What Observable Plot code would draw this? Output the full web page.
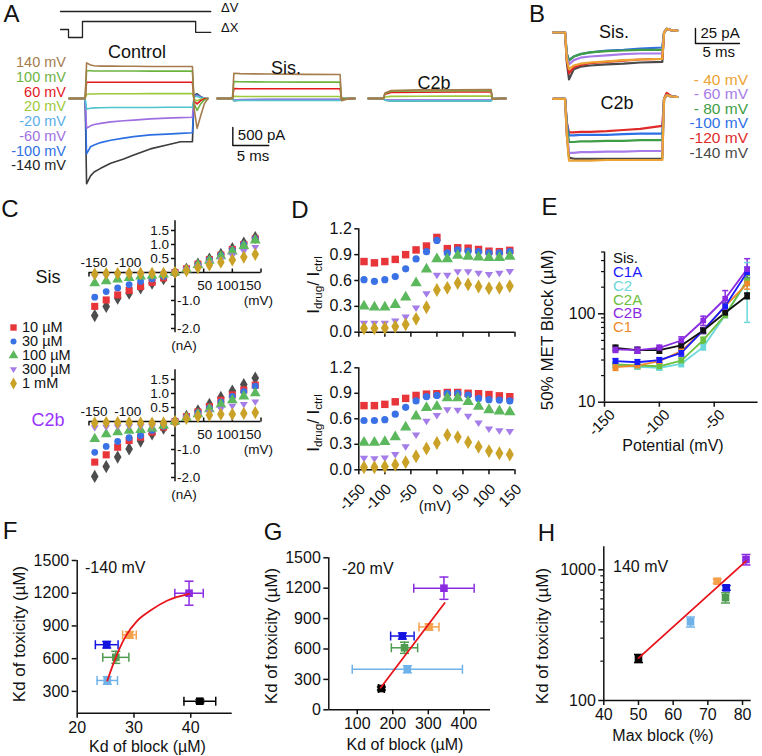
<!DOCTYPE html>
<html><head><meta charset="utf-8">
<script src="https://cdn.jsdelivr.net/npm/d3@7"></script>
<script src="https://cdn.jsdelivr.net/npm/@observablehq/plot@0.6"></script>
<style>
body{margin:0;background:#fff;}
#root{position:relative;width:762px;height:756px;overflow:hidden;background:#fff;font-family:"Liberation Sans",Arial,Helvetica,sans-serif;color:#111;}
.t{position:absolute;white-space:nowrap;line-height:0.8;}
.t sub{font-size:0.68em;vertical-align:-0.25em;line-height:0;}
.stack{position:absolute;white-space:nowrap;}
</style></head><body><div id="root"></div>
<script>
// ================= DATA =================
// Panel A : MET currents (pA) vs time (ms from step onset)
const aLabels = ["140 mV","100 mV","60 mV","20 mV","-20 mV","-60 mV","-100 mV","-140 mV"];
const aTime = [-2.3,-0.05,0.15,0.7,1.2,2.1,3.5,5.3,6.7,9.0,11.3,13.2,14.85,15.1,15.5,16.0,16.5,17.0];
const aControl = [
 [0,0,990,930,910,900,900,895,895,890,890,890,890,-300,-830,-480,-150,0],
 [0,0,770,770,765,765,765,765,765,760,760,760,760,-150,-330,-150,-40,0],
 [0,0,450,450,450,450,450,450,450,450,450,450,450,-80,-150,-60,-10,0],
 [0,0,120,125,125,130,130,130,130,135,135,135,135,-30,-60,-20,0,0],
 [0,0,-290,-270,-260,-255,-250,-250,-250,-250,-245,-245,-245,40,60,20,0,0],
 [0,0,-825,-760,-720,-690,-650,-620,-600,-565,-545,-530,-520,60,80,30,5,0],
 [0,0,-1540,-1340,-1290,-1225,-1160,-1100,-1060,-1010,-990,-970,-950,80,100,40,5,0],
 [0,0,-2370,-2150,-2040,-1940,-1800,-1680,-1570,-1400,-1290,-1200,-1200,100,130,50,5,0]
];
const aDrugTime = [-2.2,-0.05,0.15,1,5,10,14.9,15.1,16,17];
const aSis = [
 [0,0,700,690,680,670,665,-60,-10,0],
 [0,0,470,465,460,455,455,-30,0,0],
 [0,0,275,270,270,270,270,-15,0,0],
 [0,0,60,55,55,55,55,0,0,0],
 [0,0,-60,-55,-55,-55,-55,0,0,0],
 [0,0,-40,-30,-25,-25,-25,0,0,0],
 [0,0,-50,-35,-30,-30,-30,0,0,0],
 [0,0,-60,-40,-35,-35,-35,0,0,0]
];
const aC2b = [
 [0,0,150,220,240,245,250,-20,0,0],
 [0,0,140,200,210,215,215,-15,0,0],
 [0,0,120,170,175,180,180,-10,0,0],
 [0,0,40,60,62,65,65,0,0,0],
 [0,0,-50,-65,-65,-65,-65,0,0,0],
 [0,0,-30,-45,-45,-45,-45,0,0,0],
 [0,0,-40,-55,-55,-55,-55,0,0,0],
 [0,0,-45,-60,-60,-60,-60,0,0,0]
];
const stimTime = [-3.47,-2.36,-0.42,15.3,17.4];
const stimX = [0,-1,1,-0.35,-0.35];
const stimV = [0,0,0,0,0];
const aScale = {pA: 500, ms: 5};

// Panel B
const bLabels = ["- 40 mV","- 60 mV","- 80 mV","-100 mV","-120 mV","-140 mV"];
const bTime = [-1.4,-0.05,0.15,0.4,0.95,1.7,2.8,4.7,6.6,8.5,11.0,11.2,11.5,12.0,12.7];
const bSis = [
 [0,0,-45,-61,-55,-52,-50,-48,-46,-45,-44,0,6,4,3],
 [0,0,-40,-53,-46,-42,-40,-38,-36,-35,-35,0,6,4,3],
 [0,0,-35,-47,-40,-36,-33,-31,-30,-29,-29,0,6,4,3],
 [0,0,-35,-46,-40,-36,-33,-30,-29,-27,-25,0,6,4,3],
 [0,0,-45,-68,-58,-54,-51,-49,-47,-45,-44,0,6,4,3],
 [0,0,-50,-78,-61,-57,-55,-53,-52,-50,-49,0,6,4,3]
];
const bC2b = [
 [0,0,-60,-103,-103,-103,-103,-102,-102,-102,-102,0,6,4,3],
 [0,0,-55,-90,-90,-89,-89,-88,-88,-87,-87,0,6,4,3],
 [0,0,-45,-72,-72,-71,-71,-70,-70,-69,-69,0,6,4,3],
 [0,0,-40,-61,-61,-60,-60,-60,-59,-58,-58,0,6,4,3],
 [0,0,-40,-56,-56,-55,-55,-54,-52,-50,-45,0,10,5,3],
 [0,0,-60,-98,-100,-100,-100,-100,-100,-100,-100,0,6,4,3]
];
const bScale = {pA: 25, ms: 5};

// Panel C : I-V (nA)
const ivV = [-140,-120,-100,-80,-60,-40,-20,0,20,40,60,80,100,120,140];
const concLabels = ["10 µM","30 µM","100 µM","300 µM","1 mM"];
const ivSis = [
 [-1.54,-1.21,-0.92,-0.74,-0.55,-0.38,-0.22,0,0.12,0.30,0.48,0.65,0.85,1.05,1.25],
 [-1.21,-0.98,-0.80,-0.64,-0.50,-0.35,-0.19,0,0.13,0.30,0.46,0.62,0.82,1.00,1.20],
 [-0.88,-0.68,-0.55,-0.43,-0.32,-0.23,-0.14,0,0.12,0.28,0.45,0.62,0.80,1.00,1.20],
 [-0.38,-0.31,-0.25,-0.19,-0.14,-0.11,-0.07,0,0.11,0.27,0.42,0.58,0.75,0.95,1.15],
 [-0.14,-0.12,-0.10,-0.08,-0.07,-0.05,-0.04,0,0.09,0.22,0.33,0.45,0.60,0.75,0.90],
 [-0.05,-0.04,-0.04,-0.03,-0.03,-0.03,-0.03,0,0.07,0.17,0.27,0.37,0.45,0.55,0.65]
];
const ivC2b = [
 [-1.96,-1.61,-1.27,-0.98,-0.70,-0.44,-0.24,0,0.18,0.38,0.61,0.86,1.09,1.32,1.55],
 [-1.45,-1.19,-0.92,-0.68,-0.56,-0.38,-0.20,0,0.17,0.34,0.53,0.76,0.95,1.13,1.30],
 [-1.10,-0.89,-0.71,-0.58,-0.50,-0.32,-0.17,0,0.16,0.32,0.49,0.70,0.90,1.07,1.26],
 [-0.62,-0.45,-0.38,-0.33,-0.30,-0.25,-0.15,0,0.14,0.26,0.44,0.61,0.76,0.90,1.01],
 [-0.22,-0.20,-0.19,-0.18,-0.18,-0.18,-0.13,0,0.13,0.21,0.32,0.44,0.55,0.61,0.70],
 [-0.05,-0.04,-0.04,-0.04,-0.05,-0.06,-0.05,0,0.11,0.18,0.23,0.26,0.26,0.29,0.32]
];
const ivYTicks = [1.5,1,0.5,-0.5,-1,-1.5,-2];
const ivYLabelsPos = [1.5,1.0,0.5];
const ivYLabelsNeg = [-1,-2];
const ivXLabelsNeg = [-150,-100];
const ivXLabelsPos = [50,100,150];

// Panel D : I_drug / I_ctrl
const dSis = [
 [0.82,0.805,0.82,0.845,0.90,0.955,1.0,1.10,0.97,0.98,0.975,0.96,0.94,0.935,0.95],
 [0.61,0.59,0.61,0.645,0.735,0.85,0.935,1.065,0.92,0.955,0.94,0.935,0.92,0.92,0.935],
 [0.30,0.29,0.29,0.32,0.405,0.57,0.73,0.85,0.85,0.89,0.88,0.87,0.865,0.865,0.88],
 [0.105,0.105,0.105,0.13,0.175,0.28,0.445,0.66,0.66,0.70,0.70,0.685,0.67,0.685,0.705],
 [0.045,0.045,0.05,0.065,0.09,0.155,0.29,0.49,0.515,0.57,0.555,0.53,0.51,0.515,0.535]
];
const dC2b = [
 [0.755,0.755,0.77,0.80,0.84,0.875,0.89,0.895,0.91,0.91,0.90,0.895,0.885,0.87,0.86],
 [0.58,0.58,0.59,0.655,0.735,0.81,0.86,0.875,0.90,0.90,0.88,0.84,0.825,0.82,0.81],
 [0.32,0.32,0.33,0.385,0.50,0.63,0.73,0.745,0.845,0.845,0.80,0.745,0.705,0.69,0.68],
 [0.135,0.13,0.14,0.18,0.27,0.41,0.57,0.64,0.705,0.70,0.63,0.55,0.48,0.46,0.45],
 [0.03,0.03,0.04,0.06,0.09,0.16,0.25,0.315,0.41,0.385,0.325,0.27,0.22,0.195,0.18]
];
const dYTicks = [0,0.3,0.6,0.9,1.2];
const dXTicks = [-150,-100,-50,0,50,100,150];

// Panel E : 50% MET block (µM)
const eV = [-140,-120,-100,-80,-60,-40,-20];
const compounds = ["Sis.","C1A","C2","C2A","C2B","C1"];
const eBlock = [
 [41.2,38.8,38.8,43.8,64.8,102.6,160],
 [29.1,28.3,29.9,36.2,64.8,122,295],
 [26.0,25.1,24.5,27.2,42,96.6,230],
 [26.7,26.0,25.5,29.6,50.3,96.6,240],
 [39.5,38.8,41.2,49.9,84,148,320],
 [24.9,26.0,29.1,37.8,64.8,122,220]
];
const eErr = [
 [3,3,3,3,4,6,12],
 [2,2,2,3,5,10,40],
 [1.5,1.5,1.5,2,3,6,150],
 [2,2,2,2,4,6,30],
 [3,3,3,5,10,35,100],
 [2,2,2,3,5,10,30]
];
const eYMajor = [10,100];
const eYMinor = [20,30,40,50,60,70,80,90,200,300,400,500];
const eXTicks = [-150,-100,-50];

// Panels F, G, H
const toxKd = [210,728,400,612,1200,818];
const toxErr = [15,30,35,55,110,30];
const blockKd140 = [41.6,25.2,25.3,26.8,39.7,29.2];
const blockErr140 = [2.8,2.0,1.8,2.3,2.5,1.2];
const blockKd20 = [168,227,241,233,344,302];
const blockErr20 = [8,33,155,37,85,28];
const maxBlock = [50.0,75.3,65.0,75.1,81.0,72.7];
const fitFx = [25.3,27.05,28.5,30.6,32.9,35.9,39.7];
const fitFy = [398,643,802,949,1041,1133,1194];
const fitGx = [166,346];
const fitGy = [217,1054];
const fitHx = [50,81];
const fitHy = [211,1164];

// ================= STYLE / LAYOUT =================
const FONT = '"Liberation Sans", Arial, Helvetica, sans-serif';
const root = document.getElementById("root");
const aTraceColors = ["#a57c4c","#6db33f","#e3191c","#9dc93b","#4fc4cc","#9e6fe0","#2d6fe3","#3c3c3c"];
const aLabelColors = ["#a57c4c","#6db33f","#e3191c","#9dc93b","#5aaee8","#9e6fe0","#2d6fe3","#222222"];
const bColors = ["#eda334","#a77ce8","#3f9d45","#2f6fe6","#df2a2a","#4a4a4a"];
const concColors = ["#e8353a","#3a72e6","#5cb85c","#a57de8","#c9a227"];
const ctrlColor = "#4d4d4d";
const eColors = ["#111111","#1a1aff","#6ad8d8","#6cc040","#8a2be2","#f08a2a"];
const sColors = ["#000000","#1414e0","#6fb2ea","#4f9b4f","#8a2be2","#f5a04a"];

const sym = {
  vline:{draw(c,s){const r=Math.sqrt(s/Math.PI);c.moveTo(0,-r);c.lineTo(0,r);}},
  hline:{draw(c,s){const r=Math.sqrt(s/Math.PI);c.moveTo(-r,0);c.lineTo(r,0);}},
  tickDown:{draw(c,s){const r=Math.sqrt(s/Math.PI);c.moveTo(0,0);c.lineTo(0,r);}},
  tickUp:{draw(c,s){const r=Math.sqrt(s/Math.PI);c.moveTo(0,0);c.lineTo(0,-r);}},
  tickLeft:{draw(c,s){const r=Math.sqrt(s/Math.PI);c.moveTo(0,0);c.lineTo(-r,0);}},
  triDown:{draw(c,s){const r=Math.sqrt(s/Math.PI);c.moveTo(-r,-0.6*r);c.lineTo(r,-0.6*r);c.lineTo(0,0.95*r);c.closePath();}}
};
const concSymbols = ["square","circle","triangle",sym.triDown,"diamond"];

function addPlot(box, fr, opts) {
  const o = Object.assign({
    width: box.width, height: box.height,
    marginLeft: fr.x0 - box.left, marginRight: box.left + box.width - fr.x1,
    marginTop: fr.y0 - box.top, marginBottom: box.top + box.height - fr.y1,
    style: {overflow: "visible", background: "transparent", fontFamily: FONT, fontSize: "16px", color: "#111"}
  }, opts);
  const svg = Plot.plot(o);
  svg.style.position = "absolute";
  svg.style.left = box.left + "px";
  svg.style.top = box.top + "px";
  root.appendChild(svg);
  return svg;
}
function txt(s, x, y, o = {}) {
  const d = document.createElement("div");
  d.className = "t";
  if (o.html) d.innerHTML = s; else d.textContent = s;
  d.style.left = x + "px"; d.style.top = y + "px";
  d.style.fontSize = (o.size || 16) + "px";
  d.style.color = o.color || "#111";
  const a = o.anchor || "start";
  const tx = a === "start" ? "0" : a === "middle" ? "-50%" : "-100%";
  d.style.transform = `translate(${tx},-50%)` + (o.rotate ? ` rotate(${o.rotate}deg)` : "");
  root.appendChild(d);
}
// a block of stacked lines (one element), first line centred at yFirst
function stack(lines, colors, x, yFirst, spacing, size, align) {
  const d = document.createElement("div");
  d.className = "stack";
  d.style.fontSize = size + "px";
  d.style.lineHeight = spacing + "px";
  d.style.top = (yFirst - spacing / 2) + "px";
  d.style.textAlign = align;
  if (align === "right") { d.style.left = x + "px"; d.style.transform = "translateX(-100%)"; }
  else d.style.left = x + "px";
  lines.forEach((s, k) => {
    if (k) d.appendChild(document.createElement("br"));
    const sp = document.createElement("span");
    sp.textContent = s; sp.style.color = colors[k];
    d.appendChild(sp);
  });
  root.appendChild(d);
}

// ================= PANEL A =================
const A_MS = 7.2, A_PA = 0.036; // px per ms, px per pA
const aX = {domain: [-85 / A_MS, 455 / A_MS], axis: null};
const aOffsets = [0, 20.46, 41.43];
const aRows = [];
[aControl, aSis, aC2b].forEach((grp, gi) => {
  const times = gi === 0 ? aTime : aDrugTime;
  for (let k = grp.length - 1; k >= 0; k--)
    grp[k].forEach((v, j) => aRows.push({key: gi + "-" + k, t: times[j] + aOffsets[gi], i: v, c: aTraceColors[k]}));
});
const aBar = {t: 20.46, i: -1306};
addPlot({left:0, top:0, width:540, height:200}, {x0:0, x1:540, y0:0, y1:200}, {
  x: aX, y: {domain: [-102 / A_PA, 98 / A_PA], axis: null}, color: {type: "identity"},
  marks: [
    Plot.line(aRows, {x: "t", y: "i", z: "key", stroke: "c", strokeWidth: 1.6}),
    Plot.line([[aBar.t, aBar.i + aScale.pA], [aBar.t, aBar.i], [aBar.t + aScale.ms, aBar.i]], {stroke: "#111", strokeWidth: 1.4}),
    Plot.text([aScale.pA + " pA"], {x: aBar.t, y: aBar.i + aScale.pA / 2, text: d => d, dx: 5, dy: -1, textAnchor: "start", fontSize: 15}),
    Plot.text([aScale.ms + " ms"], {x: aBar.t, y: aBar.i, text: d => d, dx: 4, dy: 11, textAnchor: "start", fontSize: 15})
  ]
});
addPlot({left:0, top:3, width:540, height:16}, {x0:0, x1:540, y0:3, y1:19}, {
  x: aX, y: {domain: [-1, 1], axis: null},
  marks: [Plot.line(stimTime.map((t, j) => [t, stimV[j]]), {stroke: "#222", strokeWidth: 1.3})]
});
addPlot({left:0, top:13, width:540, height:32}, {x0:0, x1:540, y0:13, y1:45}, {
  x: aX, y: {domain: [-2, 2], axis: null},
  marks: [Plot.line(stimTime.map((t, j) => [t, stimX[j]]), {stroke: "#222", strokeWidth: 1.3, curve: "step-after"})]
});
txt("ΔV", 221, 7.5, {size: 13});
txt("ΔX", 221, 28, {size: 13});
stack(aLabels, aLabelColors, 66, 62.5, 14.75, 14.5, "right");
txt("Control", 137, 52, {size: 18, anchor: "middle"});
txt("Sis.", 286, 68, {size: 18, anchor: "middle"});
txt("C2b", 434, 83, {size: 18, anchor: "middle"});

// ================= PANEL B =================
const B_MS = 8.8, B_PA = 0.6;
const bOffsets = [0, -110.5];
const bRows = [];
[bSis, bC2b].forEach((grp, gi) => {
  for (let k = grp.length - 1; k >= 0; k--)
    grp[k].forEach((v, j) => bRows.push({key: gi + "-" + k, t: bTime[j], i: v + bOffsets[gi], c: bColors[k]}));
});
const bBar = {t: 14.77, i: -18.3};
addPlot({left:540, top:0, width:222, height:200}, {x0:540, x1:762, y0:0, y1:200}, {
  x: {domain: [-25 / B_MS, 197 / B_MS], axis: null},
  y: {domain: [-168 / B_PA, 32 / B_PA], axis: null}, color: {type: "identity"},
  marks: [
    Plot.line(bRows, {x: "t", y: "i", z: "key", stroke: "c", strokeWidth: 2.2}),
    Plot.line([[bBar.t, bBar.i + bScale.pA], [bBar.t, bBar.i], [bBar.t + bScale.ms, bBar.i]], {stroke: "#111", strokeWidth: 1.4}),
    Plot.text([bScale.pA + " pA"], {x: bBar.t, y: bBar.i + bScale.pA / 2, text: d => d, dx: 5, dy: -3, textAnchor: "start", fontSize: 15}),
    Plot.text([bScale.ms + " ms"], {x: bBar.t, y: bBar.i, text: d => d, dx: 7, dy: 9, textAnchor: "start", fontSize: 15})
  ]
});
txt("Sis.", 614, 32, {size: 18, anchor: "middle"});
txt("C2b", 617, 103, {size: 18, anchor: "middle"});
stack(bLabels, bColors, 748, 80, 14.6, 15.5, "right");

// ================= PANEL C =================
const ivXNegDx = [5, 10];
const ivXPosDx = [1, -5, -11];
function ivPlot(series, box, fr) {
  const marks = [
    Plot.ruleY([0], {stroke: "#111", strokeWidth: 1.5}),
    Plot.ruleX([0], {stroke: "#111", strokeWidth: 1.5}),
    Plot.dot(ivYTicks, {x: 0, y: d => d, symbol: sym.tickLeft, r: 4, stroke: "#111", fill: "none", strokeWidth: 1.5}),
    Plot.dot(ivXLabelsNeg, {x: d => d, y: 0, symbol: sym.tickDown, r: 4, stroke: "#111", fill: "none", strokeWidth: 1.5}),
    Plot.dot(ivXLabelsPos, {x: d => d, y: 0, symbol: sym.tickUp, r: 4, stroke: "#111", fill: "none", strokeWidth: 1.5}),
    Plot.text(ivYLabelsPos, {x: 0, y: d => d, text: d => d.toFixed(1), textAnchor: "end", dx: -6, fontSize: 13.5}),
    Plot.text(ivYLabelsNeg, {x: 0, y: d => d, text: d => d.toFixed(1), textAnchor: "start", dx: 2, fontSize: 13.5}),
    ...ivXLabelsNeg.map((v, j) => Plot.text([v], {x: d => d, y: 0, text: d => String(d), dx: ivXNegDx[j], dy: -10, fontSize: 13.5})),
    ...ivXLabelsPos.map((v, j) => Plot.text([v], {x: d => d, y: 0, text: d => String(d), dx: ivXPosDx[j], dy: 13, fontSize: 13.5})),
    Plot.text(["(mV)"], {x: 150, y: 0, text: d => d, dx: 12, dy: 28, textAnchor: "end", fontSize: 13.5}),
    Plot.text(["(nA)"], {x: 0, y: -2.15, text: d => d, dx: 9, dy: 13, fontSize: 13.5})
  ];
  series.forEach((vals, k) => {
    const col = k === 0 ? ctrlColor : concColors[k - 1];
    const s = k === 0 ? "diamond" : concSymbols[k - 1];
    marks.push(Plot.dot(ivV.map((v, j) => [v, vals[j]]), {x: d => d[0], y: d => d[1], symbol: s, r: k === 2 ? 3.4 : 4, fill: col, stroke: "none"}));
  });
  addPlot(box, fr, {x: {domain: [-150, 150], axis: null}, y: {domain: [-2.15, 1.85], axis: null}, marks});
}
ivPlot(ivSis, {left:60, top:200, width:220, height:160}, {x0:88.5, x1:260.5, y0:220.2, y1:332.2});
ivPlot(ivC2b, {left:60, top:350, width:220, height:160}, {x0:88.5, x1:260.5, y0:369.2, y1:481.2});
txt("Sis", 48, 277, {size: 18, anchor: "middle"});
txt("C2b", 48, 420, {size: 18, anchor: "middle", color: "#9933ff"});
// legend markers (Plot) + stacked labels
addPlot({left:0, top:318, width:90, height:72}, {x0:13, x1:80, y0:326.7, y1:382.7}, {
  x: {domain: [0, 1], axis: null}, y: {type: "point", domain: concLabels, padding: 0, axis: null},
  marks: concLabels.map((c, k) => Plot.dot([c], {x: 0, y: d => d, symbol: concSymbols[k], r: k === 1 ? 3 : 3.6, fill: concColors[k]}))
});
stack(concLabels, concLabels.map(() => "#111"), 22, 326.7, 14, 14.5, "left");

// ================= PANEL D =================
function dPlot(series, box, fr, showLabels) {
  const marks = [
    Plot.ruleX([-150], {stroke: "#111", strokeWidth: 1.5}),
    Plot.ruleY([0], {stroke: "#111", strokeWidth: 1.5}),
    Plot.axisY({ticks: dYTicks, tickFormat: d => d.toFixed(1), tickSize: 4, tickPadding: 3, strokeWidth: 1.5, fontSize: 16}),
    Plot.axisX({ticks: dXTicks, tickFormat: () => "", tickSize: 5, strokeWidth: 1.5})
  ];
  if (showLabels) marks.push(Plot.axisX({ticks: dXTicks, tickFormat: d => String(d), tickSize: 0, tickPadding: 9, tickRotate: -45, fontSize: 15, dx: 4, dy: 8}));
  series.forEach((vals, k) => {
    marks.push(Plot.dot(ivV.map((v, j) => [v, vals[j]]), {x: d => d[0], y: d => d[1], symbol: concSymbols[k], r: k === 1 ? 3.6 : 4.2, fill: concColors[k], stroke: "none"}));
  });
  addPlot(box, fr, {x: {domain: [-150, 150], label: null}, y: {domain: [0, 1.2], label: null}, marks});
}
dPlot(dSis, {left:300, top:215, width:225, height:125}, {x0:358.3, x1:514.5, y0:228.3, y1:331.7}, false);
dPlot(dC2b, {left:300, top:355, width:225, height:160}, {x0:358.3, x1:514.5, y0:367.3, y1:469.3}, true);
txt("I<sub>drug</sub>/ I<sub>ctrl</sub>", 314, 285, {size: 17, anchor: "middle", rotate: -90, html: true});
txt("I<sub>drug</sub>/ I<sub>ctrl</sub>", 314, 423, {size: 17, anchor: "middle", rotate: -90, html: true});
txt("(mV)", 435, 506, {size: 15, anchor: "middle"});

// ================= PANEL E =================
{
  const rows = [];
  const order = [2, 3, 5, 1, 0, 4];
  order.forEach(k => eV.forEach((v, j) => rows.push({k, v, b: eBlock[k][j], e: eErr[k][j], c: eColors[k]})));
  addPlot({left:575, top:245, width:187, height:190}, {x0:604, x1:757.6, y0:251.5, y1:401.7}, {
    x: {domain: [-150, -10], label: null}, y: {type: "log", domain: [10, 500], label: null}, color: {type: "identity"},
    marks: [
      Plot.ruleX([-150], {stroke: "#111", strokeWidth: 1.5}),
      Plot.ruleY([10], {stroke: "#111", strokeWidth: 1.5}),
      Plot.axisY({ticks: eYMinor, tickFormat: () => "", tickSize: 3, strokeWidth: 1.2}),
      Plot.axisY({ticks: eYMajor, tickFormat: d => String(d), tickSize: 6, tickPadding: 3, strokeWidth: 1.5, fontSize: 16}),
      Plot.axisX({ticks: eXTicks, tickFormat: () => "", tickSize: 5, strokeWidth: 1.5}),
      Plot.axisX({ticks: eXTicks, tickFormat: d => String(d), tickSize: 0, tickPadding: 8, tickRotate: -45, fontSize: 15, dx: 8, dy: 2}),
      Plot.ruleX(rows, {x: "v", y1: d => d.b - d.e, y2: d => d.b + d.e, stroke: "c", strokeWidth: 1.5}),
      Plot.dot(rows, {x: "v", y: d => d.b + d.e, symbol: sym.hline, r: 3, stroke: "c", fill: "none", strokeWidth: 1.5}),
      Plot.dot(rows, {x: "v", y: d => d.b - d.e, symbol: sym.hline, r: 3, stroke: "c", fill: "none", strokeWidth: 1.5}),
      Plot.line(rows, {x: "v", y: "b", z: "k", stroke: "c", strokeWidth: 1.8}),
      Plot.dot(rows, {x: "v", y: "b", symbol: "square", r: 3.2, fill: "c", stroke: "none"})
    ]
  });
  stack(compounds, eColors, 613, 258.3, 13.7, 15, "left");
  txt("50% MET Block (µM)", 548, 330, {size: 17, anchor: "middle", rotate: -90});
  txt("Potential (mV)", 673, 446, {size: 16, anchor: "middle"});
}

// ================= PANELS F, G, H =================
function scatter(box, fr, xs, xe, ys, ye, xOpt, yOpt, xTicks, yTicks, yMinor, fitX, fitY, curve) {
  const rows = compounds.map((n, k) => ({x: xs[k], ex: xe ? xe[k] : 0, y: ys[k], ey: ye[k], c: sColors[k]}));
  const marks = [
    Plot.ruleX([xOpt.domain[0]], {stroke: "#111", strokeWidth: 1.5}),
    Plot.ruleY([yOpt.domain[0]], {stroke: "#111", strokeWidth: 1.5})
  ];
  if (yMinor) marks.push(Plot.axisY({ticks: yMinor, tickFormat: () => "", tickSize: 3, strokeWidth: 1.2}));
  marks.push(
    Plot.axisY({ticks: yTicks, tickFormat: d => String(d), tickSize: 5, tickPadding: 3, strokeWidth: 1.5, fontSize: 16}),
    Plot.axisX({ticks: xTicks, tickFormat: d => String(d), tickSize: 5, tickPadding: 3, strokeWidth: 1.5, fontSize: 16})
  );
  if (xe) marks.push(
    Plot.ruleY(rows, {y: "y", x1: d => d.x - d.ex, x2: d => d.x + d.ex, stroke: "c", strokeWidth: 1.5}),
    Plot.dot(rows, {x: d => d.x - d.ex, y: "y", symbol: sym.vline, r: 4.5, stroke: "c", fill: "none", strokeWidth: 1.5}),
    Plot.dot(rows, {x: d => d.x + d.ex, y: "y", symbol: sym.vline, r: 4.5, stroke: "c", fill: "none", strokeWidth: 1.5})
  );
  marks.push(
    Plot.ruleX(rows, {x: "x", y1: d => d.y - d.ey, y2: d => d.y + d.ey, stroke: "c", strokeWidth: 1.5}),
    Plot.dot(rows, {x: "x", y: d => d.y + d.ey, symbol: sym.hline, r: 4.5, stroke: "c", fill: "none", strokeWidth: 1.5}),
    Plot.dot(rows, {x: "x", y: d => d.y - d.ey, symbol: sym.hline, r: 4.5, stroke: "c", fill: "none", strokeWidth: 1.5}),
    Plot.dot(rows, {x: "x", y: "y", symbol: "square", r: 4.3, fill: "c", stroke: "none"}),
    Plot.line(fitX.map((v, j) => [v, fitY[j]]), {stroke: "#e8141b", strokeWidth: 1.8, curve})
  );
  addPlot(box, fr, {x: Object.assign({label: null}, xOpt), y: Object.assign({label: null}, yOpt), color: {type: "identity"}, marks});
}
scatter({left:20, top:550, width:225, height:190}, {x0:76.7, x1:231.7, y0:560, y1:712.7},
  blockKd140, blockErr140, toxKd, toxErr, {domain: [20, 47.3]}, {domain: [100, 1500]},
  [20, 30, 40], [300, 600, 900, 1200, 1500], null, fitFx, fitFy, "monotone-x");
scatter({left:280, top:550, width:215, height:190}, {x0:328.3, x1:490, y0:557.3, y1:709.3},
  blockKd20, blockErr20, toxKd, toxErr, {domain: [20, 475]}, {domain: [0, 1500]},
  [100, 200, 300, 400], [0, 300, 600, 900, 1200, 1500], null, fitGx, fitGy, "linear");
scatter({left:560, top:540, width:200, height:190}, {x0:603.3, x1:750.7, y0:546.3, y1:700},
  maxBlock, null, toxKd, toxErr, {domain: [40, 82.5]}, {type: "log", domain: [100, 1500]},
  [40, 50, 60, 70, 80], [100, 1000], [200, 300, 400, 500, 600, 700, 800, 900], fitHx, fitHy, "linear");
txt("-140 mV", 85, 568, {size: 16});
txt("-20 mV", 342, 569, {size: 16});
txt("140 mV", 613, 567, {size: 16});
[[20, 634], [271.7, 636], [543, 636]].forEach(p => txt("Kd of toxicity (µM)", p[0], p[1], {size: 17, anchor: "middle", rotate: -90}));
txt("Kd of block (µM)", 147.5, 747, {size: 16, anchor: "middle"});
txt("Kd of block (µM)", 405, 745, {size: 16, anchor: "middle"});
txt("Max block (%)", 663, 736, {size: 16, anchor: "middle"});

// ================= PANEL LETTERS =================
[["A", 11.5, 13.5], ["B", 537, 13.5], ["C", 10, 209], ["D", 300, 210], ["E", 549.5, 207],
 ["F", 10, 530.5], ["G", 273, 531.5], ["H", 546.5, 532.5]].forEach(([s, x, y]) => txt(s, x, y, {size: 24, anchor: "middle"}));
</script></body></html>
